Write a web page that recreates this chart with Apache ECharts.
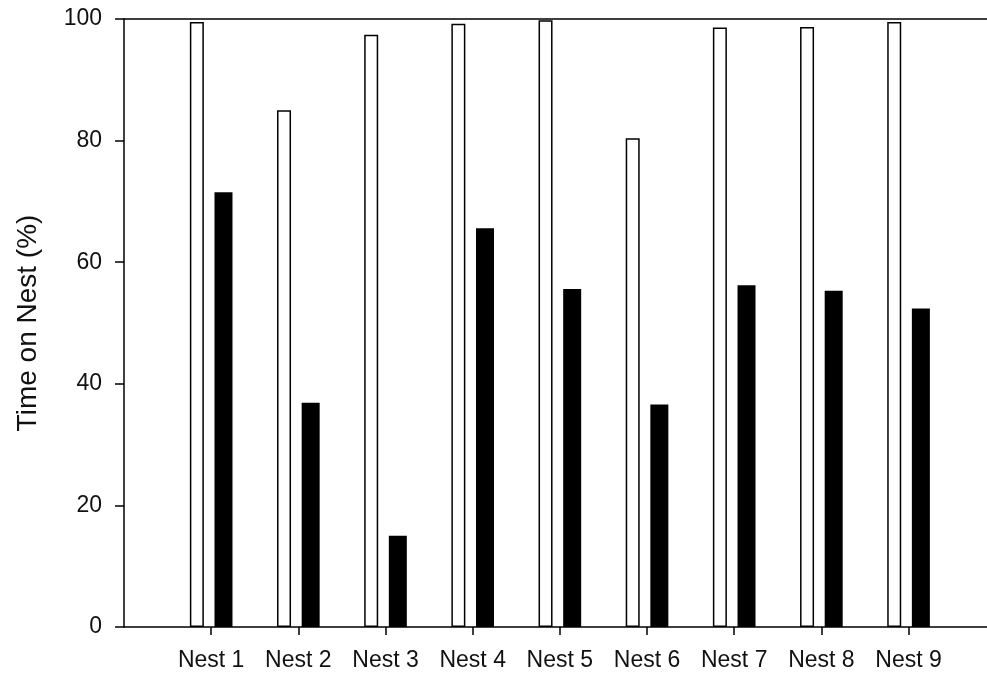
<!DOCTYPE html>
<html>
<head>
<meta charset="utf-8">
<script src="https://cdn.jsdelivr.net/npm/echarts@6/dist/echarts.min.js"></script>
<style>
html,body{margin:0;padding:0;background:#fff;}
#chart{width:987px;height:675px;}
</style>
</head>
<body>
<div id="chart"></div>
<script>
const categories = ['Nest 1','Nest 2','Nest 3','Nest 4','Nest 5','Nest 6','Nest 7','Nest 8','Nest 9'];
const whiteValues = [99.5, 85.0, 97.4, 99.2, 99.8, 80.4, 98.6, 98.7, 99.5];
const blackValues = [71.5, 36.9, 15.0, 65.6, 55.6, 36.6, 56.2, 55.3, 52.4];
const yTicks = [0, 20, 40, 60, 80, 100];
const yTitle = 'Time on Nest (%)';

const positions = categories.map((c, i) => i + 1);
const whiteData = whiteValues.map((v, i) => [positions[i], v]);
const blackData = blackValues.map((v, i) => [positions[i], v]);

const font = 'Liberation Sans, Arial, sans-serif';
const chart = echarts.init(document.getElementById('chart'), null, {renderer: 'canvas'});
chart.setOption({
  animation: false,
  backgroundColor: '#ffffff',
  grid: {left: 124, right: 0, top: 19, bottom: 48, containLabel: false},
  xAxis: [{
    type: 'value',
    min: 0,
    max: 9.9,
    interval: 1,
    axisLine: {show: true, onZero: false, lineStyle: {color: '#000', width: 1.5}},
    axisTick: {show: true, length: 8, lineStyle: {color: '#000', width: 1.5}, customValues: positions},
    axisLabel: {
      show: true, margin: 22, fontSize: 23, color: '#111', fontFamily: font,
      customValues: positions,
      formatter: function (v) { const i = Math.round(v) - 1; return categories[i] || ''; }
    },
    splitLine: {show: false}
  }, {
    type: 'value',
    position: 'top',
    min: 0, max: 1,
    axisLine: {show: true, onZero: false, lineStyle: {color: '#000', width: 1.5}},
    axisTick: {show: false},
    axisLabel: {show: false},
    splitLine: {show: false}
  }],
  yAxis: {
    type: 'value',
    min: 0,
    max: 100,
    interval: 20,
    name: yTitle,
    nameLocation: 'middle',
    nameGap: 82,
    nameTextStyle: {fontSize: 28, color: '#111', fontFamily: font},
    axisLine: {show: true, lineStyle: {color: '#000', width: 1.5}},
    axisTick: {show: true, length: 9, lineStyle: {color: '#000', width: 1.5}, customValues: yTicks},
    axisLabel: {margin: 22, fontSize: 23, color: '#111', fontFamily: font},
    splitLine: {show: false}
  },
  series: [{
    type: 'bar',
    xAxisIndex: 0,
    data: whiteData,
    barWidth: 14,
    barGap: '76%',
    itemStyle: {color: '#fff', borderColor: '#000', borderWidth: 1.5}
  }, {
    type: 'bar',
    xAxisIndex: 0,
    data: blackData,
    barWidth: 18,
    itemStyle: {color: '#000'}
  }]
});
</script>
</body>
</html>
